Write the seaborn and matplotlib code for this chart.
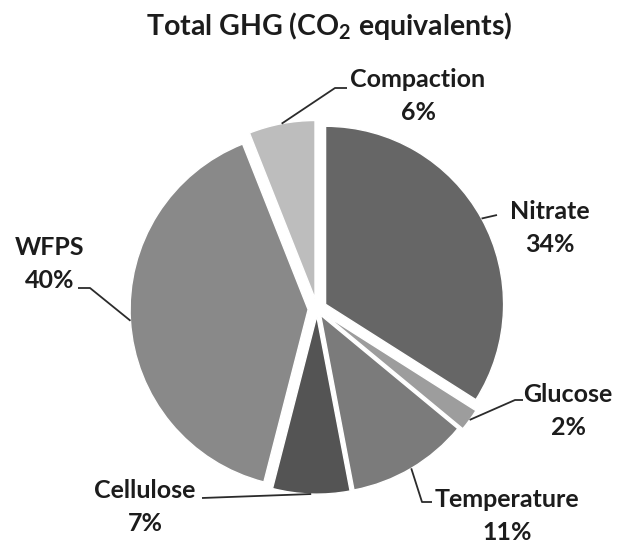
import numpy as np
import matplotlib.pyplot as plt
import seaborn as sns

# pie data, clockwise from 12 o'clock
labels = ["Nitrate", "Glucose", "Temperature", "Cellulose", "WFPS", "Compaction"]
shares = [34, 2, 11, 7, 40, 6]
colors = ["#666666", "#9d9d9d", "#7b7b7b", "#545454", "#898989", "#bdbdbd"]
explode = [0.055, 0.06, 0.04, 0.04, 0.05, 0.06]  # fraction of radius

sns.set_theme(style="white")
plt.rcParams['font.family'] = ['Lato', 'DejaVu Sans']
plt.rcParams['mathtext.fontset'] = 'custom'
plt.rcParams['mathtext.rm'] = 'Lato:bold'
plt.rcParams['mathtext.bf'] = 'Lato:bold'
plt.rcParams['mathtext.default'] = 'bf'

W, H = 627, 546
fig = plt.figure(figsize=(W / 100, H / 100), dpi=100)
ax = fig.add_axes([0, 0, 1, 1])

# pixel coords (y down) -> axes data coords (y up)
def px(x, y):
    return x, H - y

cx, cy = px(317, 309)
R = 178
wedges, _ = ax.pie(shares, colors=colors, explode=[e * R for e in explode],
                   startangle=90, counterclock=False, center=(cx, cy), radius=R,
                   wedgeprops=dict(edgecolor='white', linewidth=1))
ax.set_xlim(0, W)
ax.set_ylim(0, H)
ax.set_aspect('equal')
ax.axis('off')

# label layout: text centre, then leader points from text side (pixels)
label_pos = {
    "Nitrate": (550, 228),
    "Glucose": (568, 411),
    "Temperature": (507, 516),
    "Cellulose": (145, 507),
    "WFPS": (50, 264),
    "Compaction": (418, 96),
}
leaders = {
    "Nitrate": [(497, 215)],
    "Glucose": [(523, 400), (515, 400)],
    "Temperature": [(432, 502), (422, 502)],
    "Cellulose": [(202, 498)],
    "WFPS": [(78, 288), (90, 288)],
    "Compaction": [(347, 88), (335, 88)],
}

for w, lab, val in zip(wedges, labels, shares):
    mid = np.deg2rad((w.theta1 + w.theta2) / 2)
    ax_x = w.center[0] + w.r * np.cos(mid)
    ax_y = w.center[1] + w.r * np.sin(mid)
    pts = [px(*p) for p in leaders[lab]] + [(ax_x, ax_y)]
    xs, ys = zip(*pts)
    ax.plot(xs, ys, color="#2b2b2b", lw=1.3, solid_capstyle='butt')
    tx, ty = px(*label_pos[lab])
    ax.text(tx, ty, f"{lab}\n{val}%", ha='center', va='center',
            fontsize=18, fontweight='bold', color="#1c1c1c",
            linespacing=1.5, multialignment='center')

ax.text(*px(329, 26), r"Total GHG (CO$_2$ equivalents)",
        ha='center', va='center', fontsize=20.5, fontweight='bold',
        color="#1c1c1c")

fig.savefig("out.png", dpi=100)
